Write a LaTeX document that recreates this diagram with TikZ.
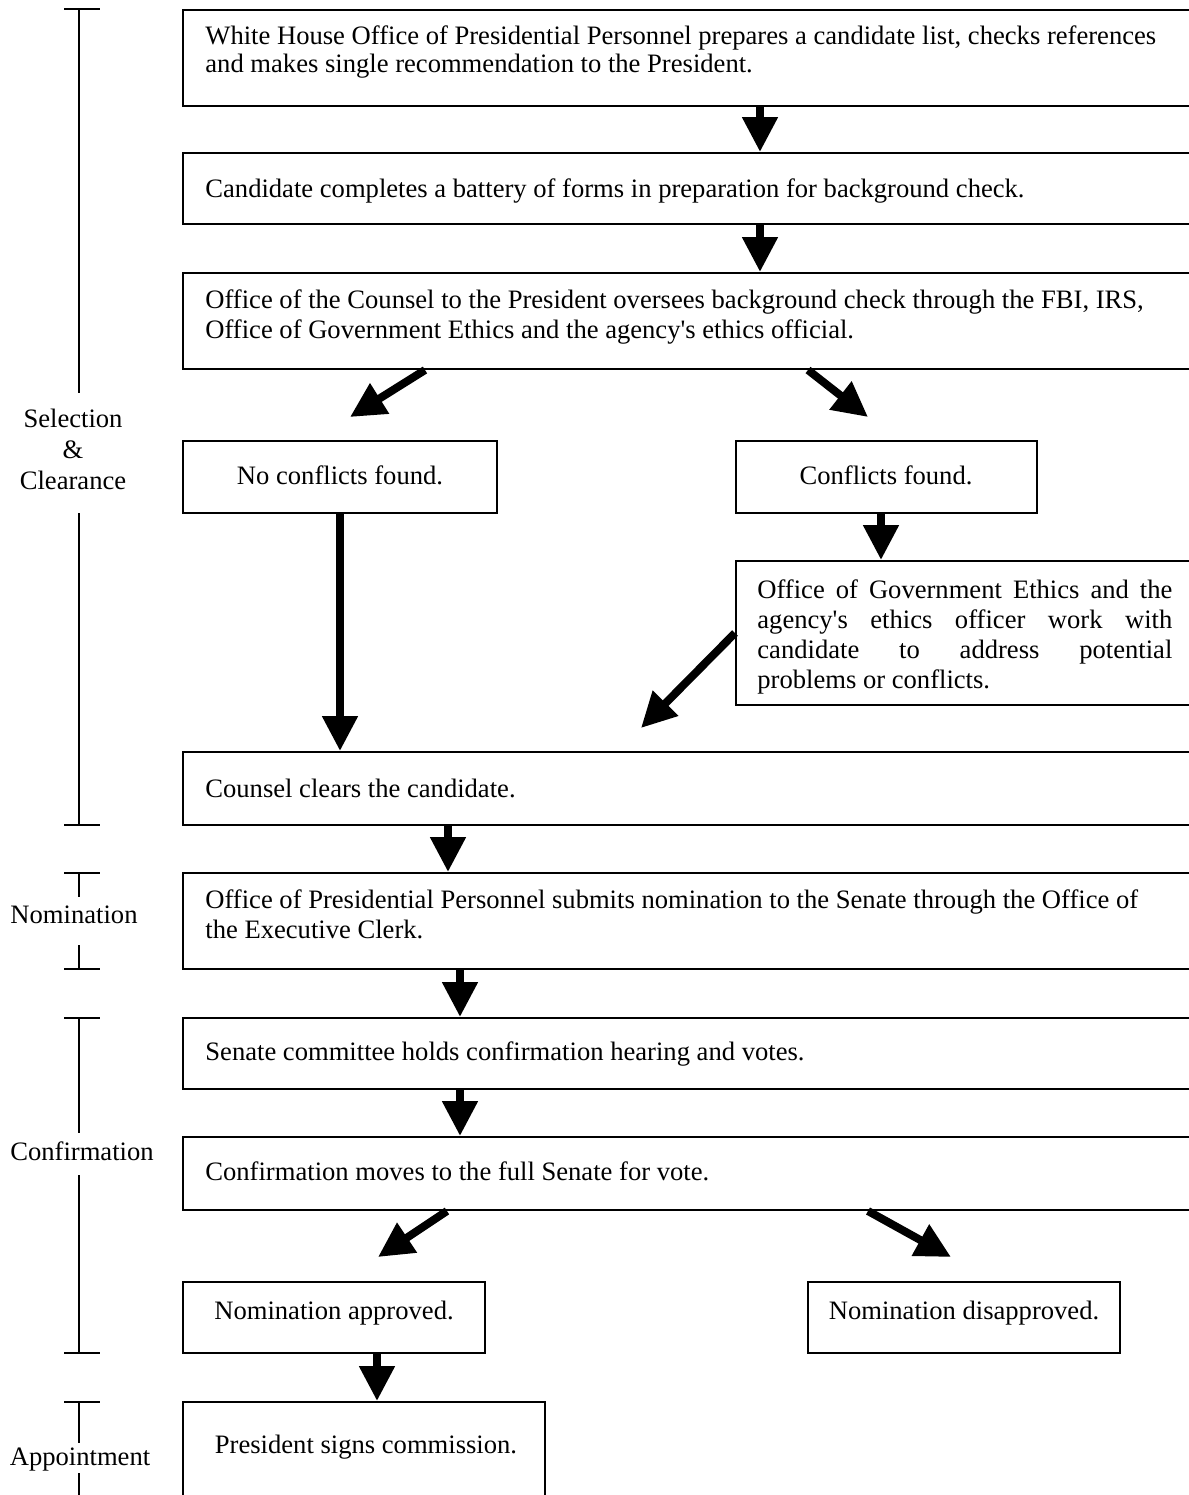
\documentclass[tikz,border=0pt]{standalone}
\usepackage{fontspec}
\setmainfont{Liberation Serif}
\usetikzlibrary{arrows.meta,fit}
\newcommand\twoline[3]{\vtop{\baselineskip=#1\hbox{#2}\hbox{#3}}}
\begin{document}
\begin{tikzpicture}[x=0.5pt,y=-0.5pt,
  box/.style={draw, line width=1pt, inner sep=0pt},
  txt/.style={inner sep=0pt, font=\fontsize{13.3}{15}\selectfont},
  bigarrow/.style={line width=4pt, -{Triangle[length=17.5pt,width=17pt]}},
  brk/.style={line width=0.75pt},
  lab/.style={inner sep=0pt, font=\fontsize{13.3}{15}\selectfont}]
\useasboundingbox (0,0) rectangle (1189,1495);
\clip (0,0) rectangle (1189,1495);
\fill[white] (0,0) rectangle (1189,1495);

% boxes
\node[box, fit={(183,10)(1300,106)}] (b1) {};
\node[box, fit={(183,153)(1300,224)}] (b2) {};
\node[box, fit={(183,273)(1300,369)}] (b3) {};
\node[box, fit={(183,441)(497,513)}] (noc) {};
\node[box, fit={(736,441)(1037,513)}] (conf) {};
\node[box, fit={(736,561)(1300,705)}] (eth) {};
\node[box, fit={(183,752)(1300,825)}] (counsel) {};
\node[box, fit={(183,873)(1300,969)}] (nom) {};
\node[box, fit={(183,1018)(1300,1089)}] (sen) {};
\node[box, fit={(183,1137)(1300,1210)}] (cmv) {};
\node[box, fit={(183,1282)(485,1353)}] (appr) {};
\node[box, fit={(808,1282)(1120,1353)}] (disap) {};
\node[box, fit={(183,1402)(545,1600)}] (pres) {};

% texts
\node[txt, anchor=base west] (t1) at (205,44) {\twoline{14pt}{White House Office of Presidential Personnel prepares a candidate list, checks references}{and makes single recommendation to the President.}};
\node[txt, anchor=base west] (t2) at (205,197) {Candidate completes a battery of forms in preparation for background check.};
\node[txt, anchor=base west] (t3) at (205,308) {\twoline{15pt}{Office of the Counsel to the President oversees background check through the FBI, IRS,}{Office of Government Ethics and the agency\textquotesingle s ethics official.}};
\node[txt, anchor=base] (tnoc) at (340,484) {No conflicts found.};
\node[txt, anchor=base] (tconf) at (886,484) {Conflicts found.};
\node[txt, anchor=base west] (teth) at (757,598) {\vtop{\baselineskip=15pt
  \hbox to 207.5pt{Office\hfill of\hfill Government\hfill Ethics\hfill and\hfill the}
  \hbox to 207.5pt{agency\textquotesingle s\hfill ethics\hfill officer\hfill work\hfill with}
  \hbox to 207.5pt{candidate\hfill to\hfill address\hfill potential}
  \hbox{problems or conflicts.}}};
\node[txt, anchor=base west] (tcounsel) at (205,797) {Counsel clears the candidate.};
\node[txt, anchor=base west] (tnom) at (205,908) {\twoline{15pt}{Office of Presidential Personnel submits nomination to the Senate through the Office of}{the Executive Clerk.}};
\node[txt, anchor=base west] (tsen) at (205,1060) {Senate committee holds confirmation hearing and votes.};
\node[txt, anchor=base west] (tcmv) at (205,1180) {Confirmation moves to the full Senate for vote.};
\node[txt, anchor=base] (tappr) at (334,1319) {Nomination approved.};
\node[txt, anchor=base] (tdisap) at (964,1319) {Nomination disapproved.};
\node[txt, anchor=base] (tpres) at (366,1453) {President signs commission.};

% arrows
\draw[bigarrow] (b1.south -| 760,0) -- (b2.north -| 760,0);
\draw[bigarrow] (b2.south -| 760,0) -- (b3.north -| 760,0);
\coordinate (d1) at (350,417);
\coordinate (d2) at (868,417);
\draw[bigarrow] (b3.south -| 425,0) -- (d1);
\draw[bigarrow] (b3.south -| 808,0) -- (d2);
\draw[bigarrow] (noc.south) -- (counsel.north -| noc.south);
\draw[bigarrow] (conf.south -| 881,0) -- (eth.north -| 881,0);
\coordinate (d3) at (641,728);
\draw[bigarrow] (eth.west |- 0,633) -- (d3);
\draw[bigarrow] (counsel.south -| 448,0) -- (nom.north -| 448,0);
\draw[bigarrow] (nom.south -| 460,0) -- (sen.north -| 460,0);
\draw[bigarrow] (sen.south -| 460,0) -- (cmv.north -| 460,0);
\coordinate (d4) at (378,1257);
\coordinate (d5) at (951,1257);
\draw[bigarrow] (cmv.south -| 447,0) -- (d4);
\draw[bigarrow] (cmv.south -| 868,0) -- (d5);
\draw[bigarrow] (appr.south -| 377,0) -- (pres.north -| 377,0);

% stage brackets
\draw[brk] (64,9) -- (100,9) (79,9) -- (79,393) (79,513) -- (79,825) (64,825) -- (100,825);
\draw[brk] (64,873) -- (100,873) (79,873) -- (79,897) (79,945) -- (79,969) (64,969) -- (100,969);
\draw[brk] (64,1018) -- (100,1018) (79,1018) -- (79,1133) (79,1175) -- (79,1353) (64,1353) -- (100,1353);
\draw[brk] (64,1402) -- (100,1402) (79,1402) -- (79,1443) (79,1473) -- (79,1500);

% stage labels
\node[lab, anchor=base] (lsel) at (73,427) {\vtop{\baselineskip=15.5pt\halign{\hfil#\hfil\cr Selection\cr\&\cr Clearance\cr}}};
\node[lab, anchor=base] (lnom) at (74,923) {Nomination};
\node[lab, anchor=base] (lconf) at (82,1160) {Confirmation};
\node[lab, anchor=base] (lapp) at (80,1465) {Appointment};
\end{tikzpicture}
\end{document}
